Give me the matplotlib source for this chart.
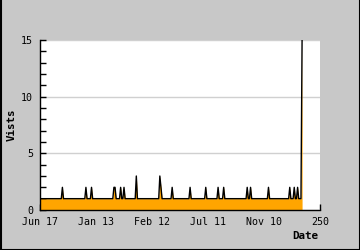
import matplotlib
matplotlib.use("Agg")
import matplotlib.pyplot as plt
from matplotlib.patches import Rectangle
from matplotlib.lines import Line2D

# Daily visits, day index 0..234
visits = [
    1, 1, 1, 1, 1, 1, 1, 1, 1, 1, 1, 1, 1, 1, 1, 1, 1, 1, 1, 1,  # 0-19
    2, 1, 1, 1, 1, 1, 1, 1, 1, 1, 1, 1, 1, 1, 1, 1, 1, 1, 1, 1,  # 20-39
    1, 2, 1, 1, 1, 1, 2, 1, 1, 1, 1, 1, 1, 1, 1, 1, 1, 1, 1, 1,  # 40-59
    1, 1, 1, 1, 1, 1, 2, 2, 1, 1, 1, 1, 2, 1, 1, 2, 1, 1, 1, 1,  # 60-79
    1, 1, 1, 1, 1, 1, 3, 1, 1, 1, 1, 1, 1, 1, 1, 1, 1, 1, 1, 1,  # 80-99
    1, 1, 1, 1, 1, 1, 1, 3, 2, 1, 1, 1, 1, 1, 1, 1, 1, 1, 2, 1,  # 100-119
    1, 1, 1, 1, 1, 1, 1, 1, 1, 1, 1, 1, 1, 1, 2, 1, 1, 1, 1, 1,  # 120-139
    1, 1, 1, 1, 1, 1, 1, 1, 2, 1, 1, 1, 1, 1, 1, 1, 1, 1, 1, 2,  # 140-159
    1, 1, 1, 1, 2, 1, 1, 1, 1, 1, 1, 1, 1, 1, 1, 1, 1, 1, 1, 1,  # 160-179
    1, 1, 1, 1, 1, 2, 1, 1, 2, 1, 1, 1, 1, 1, 1, 1, 1, 1, 1, 1,  # 180-199
    1, 1, 1, 1, 2, 1, 1, 1, 1, 1, 1, 1, 1, 1, 1, 1, 1, 1, 1, 1,  # 200-219
    1, 1, 1, 2, 1, 1, 1, 2, 1, 1, 2, 1, 1, 1, 15,                # 220-234
]
days = list(range(len(visits)))

tick_positions = [0, 50, 100, 150, 200, 250]
tick_labels = ["Jun 17", "Jan 13", "Feb 12", "Jul 11", "Nov 10", "250"]
ytick_positions = [0, 5, 10, 15]
ylabel = "Vists"
xlabel = "Date"

font = "DejaVu Sans Mono"
plt.rcParams["font.family"] = font

fig = plt.figure(figsize=(3.6, 2.5), dpi=100)
fig.patch.set_facecolor("#c8c8c8")
ax = fig.add_axes([40 / 360, 1 - 210 / 250, 280 / 360, 170 / 250])
ax.set_facecolor("white")

ax.fill_between(days, 0, visits, color="#ffa500", linewidth=0, zorder=2)
ax.plot(days, visits, color="black", linewidth=1.0, zorder=3)

ax.set_xlim(0, 250)
ax.set_ylim(0, 15)
ax.set_xticks(tick_positions)
ax.set_xticklabels(tick_labels)
ax.set_yticks(ytick_positions)
ax.set_yticks(range(0, 16), minor=True)
ax.tick_params(axis="both", which="major", direction="in", length=4, width=1,
               labelsize=7.2, pad=5, colors="black")
ax.tick_params(axis="y", which="minor", direction="in", length=4, width=1)
ax.tick_params(axis="x", which="minor", length=0)
for sp in ("top", "right"):
    ax.spines[sp].set_visible(False)
for sp in ("left", "bottom"):
    ax.spines[sp].set_linewidth(1.0)
    ax.spines[sp].set_zorder(4)
ax.grid(axis="y", which="major", color="#d0d0d0", linewidth=1.0, zorder=1)
ax.set_axisbelow(True)

fig.text(12 / 360, 1 - 125 / 250, ylabel, rotation=90, ha="center", va="center",
         fontsize=7.8, fontweight="bold", family=font)
fig.text(305 / 360, 1 - 236 / 250, xlabel, ha="center", va="center",
         fontsize=7.8, fontweight="bold", family=font)

# outer frame
fig.add_artist(Line2D([0.5 / 360, 0.5 / 360], [0, 1], color="black", lw=1.5, transform=fig.transFigure))
fig.add_artist(Line2D([359.5 / 360, 359.5 / 360], [0, 1], color="black", lw=1.5, transform=fig.transFigure))
fig.add_artist(Line2D([0, 1], [0.5 / 250, 0.5 / 250], color="black", lw=1.5, transform=fig.transFigure))

fig.savefig("out.png", dpi=100, facecolor=fig.get_facecolor())
